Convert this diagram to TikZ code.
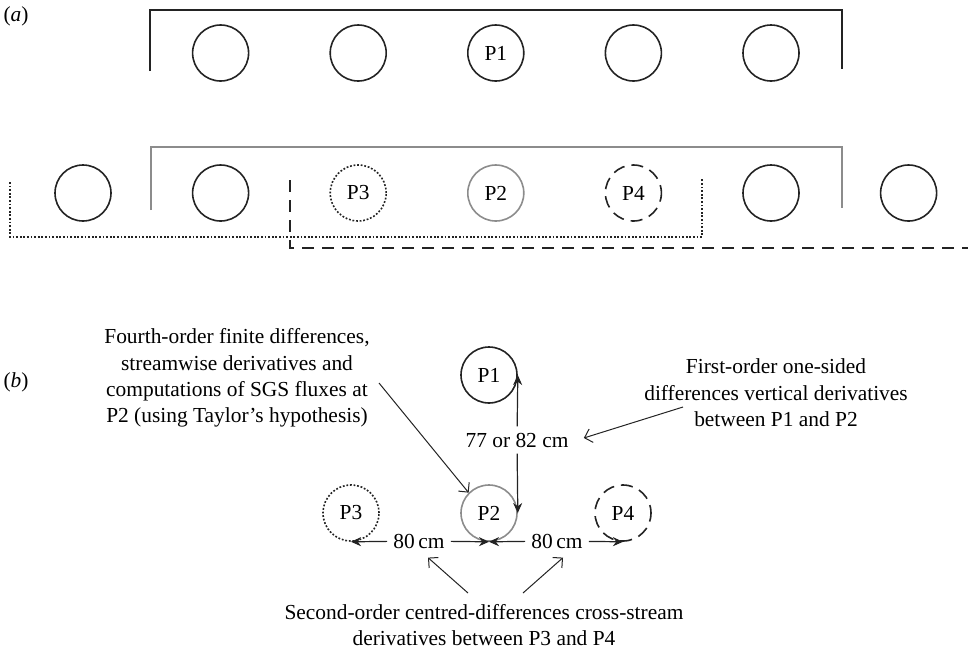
\documentclass[tikz,border=0pt]{standalone}
\usepackage{fontspec}
\setmainfont{Liberation Serif}
\usepackage{tikz}
\usetikzlibrary{arrows.meta, positioning, calc}
\definecolor{mygray}{RGB}{140,140,140}
\definecolor{mydark}{RGB}{35,35,35}
\tikzset{
  probe/.style={circle, draw=mydark, minimum size=28pt, inner sep=0pt,
    line width=0.8pt, font=\fontsize{10.7}{12}\selectfont},
  grayprobe/.style={probe, draw=mygray},
  dotprobe/.style={probe, dash pattern=on 0.9pt off 0.9pt},
  dashprobe/.style={probe, dash pattern=on 6pt off 3.5pt, dash phase=2pt},
  note/.style={align=center, font=\fontsize{10.7}{13.2}\selectfont, inner sep=1pt},
  dimlabel/.style={note, inner sep=3pt},
  dimarrow/.style={-{Stealth[length=5pt,width=4.5pt]}, line width=0.6pt, color=mydark},
  pointer/.style={-{Straight Barb[length=3.5pt,width=7pt]}, line width=0.5pt, color=mydark},
  frame/.style={line width=0.9pt, color=mydark}
}

\begin{document}
\begin{tikzpicture}[x=0.5pt, y=-0.5pt]
\useasboundingbox (0,0) rectangle (968,649);

% (a) probe array
\node[note] (lbla) at (16,16) {(\textit{a})};
\draw[frame] (150,71) -- (150,10) -- (842,10) -- (842,69);
\draw[frame, color=mygray] (151,210) -- (151,147) -- (842,147) -- (842,208);
\draw[frame, line width=0.8pt, dash pattern=on 0.9pt off 0.9pt]
  (10,182) -- (10,237) -- (702,237) -- (702,178);
\draw[frame, dash pattern=on 6pt off 4pt] (290,180) -- (290,248) -- (968,248);
\foreach \i/\lbl in {1/{}, 2/{}, 3/P1, 4/{}, 5/{}}
  \node[probe] (a\i) at (83+137.6*\i, 53) {\lbl};
\foreach \i/\sty/\lbl in {0/probe/{}, 1/probe/{}, 2/dotprobe/P3, 3/grayprobe/P2,
    4/dashprobe/P4, 5/probe/{}, 6/probe/{}}
  \node[\sty] (b\i) at (83+137.6*\i, 193) {\lbl};

% (b) stencil
\node[note] (lblb) at (16,382) {(\textit{b})};
\node[probe] (P1b) at (489,375) {P1};
\node[grayprobe] (P2b) at (489,513) {P2};
\node[dotprobe] (P3b) at (351,513) {P3};
\node[dashprobe] (P4b) at (623,513) {P4};
\node[dimlabel] (d77) at (517,440) {77 or 82 cm};
\node[dimlabel] (d80l) at (419,541) {80\,cm};
\node[dimlabel] (d80r) at (557,541) {80\,cm};
\draw[dimarrow] (d77) -- (P1b.east);
\draw[dimarrow] (d77) -- (P2b.east);
\draw[dimarrow] (d80l) -- (P3b.south);
\draw[dimarrow] (d80l) -- (P2b.south);
\draw[dimarrow] (d80r) -- (P2b.south);
\draw[dimarrow] (d80r) -- (P4b.south);

\node[note] (fourth) at (237,378) {Fourth-order finite differences,\\
  streamwise derivatives and\\ computations of SGS fluxes at\\
  P2 (using Taylor’s hypothesis)};
\node[note] (first) at (776,393) {First-order one-sided\\
  differences vertical derivatives\\ between P1 and P2};
\node[note, font=\fontsize{10.7}{12.6}\selectfont] (second) at (484,625)
  {Second-order centred-differences cross-stream\\
  derivatives between P3 and P4};

\coordinate (fourthtip) at (379,383);
\coordinate (firsttip) at (683,407);
\coordinate (secondl) at (468,593);
\coordinate (secondr) at (523,593);
\draw[pointer] (fourthtip) -- (P2b.north west);
\draw[pointer] (firsttip) -- ($(d77.east)+(9,-2)$);
\draw[pointer] (secondl) -- ($(d80l.south)+(9,3)$);
\draw[pointer] (secondr) -- ($(d80r.south)+(6,3)$);
\end{tikzpicture}
\end{document}
